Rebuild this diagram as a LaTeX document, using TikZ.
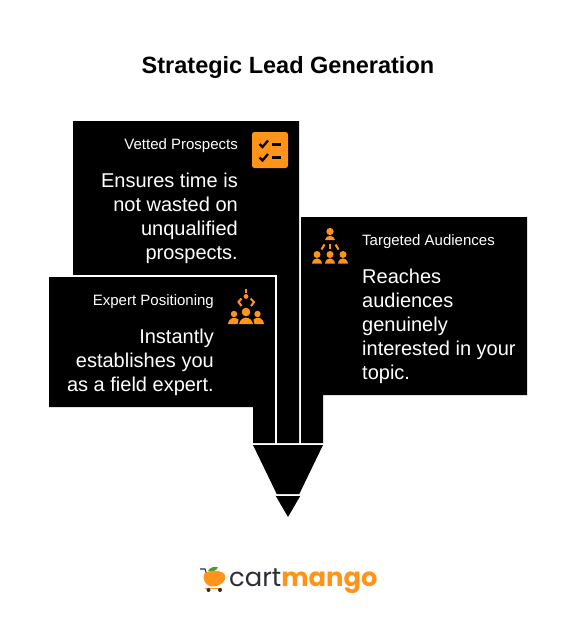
\documentclass[tikz,border=0pt]{standalone}
\usepackage{fontspec}
\setmainfont{Liberation Sans}
\newfontfamily\logofont{Poppins}
\usetikzlibrary{positioning}
\definecolor{mangoorange}{HTML}{FF9418}
\definecolor{cartgray}{HTML}{2B2F33}
\definecolor{leafgreen}{HTML}{4E9A2E}

\begin{document}
\begin{tikzpicture}[
  x=1pt,y=-1pt,
  panel/.style={fill=black,draw=none},
  rim/.style={draw=white,line width=2pt},
  heading/.style={text=white,inner sep=0pt,font=\fontsize{15}{18}\selectfont},
  bodytext/.style={text=white,inner sep=0pt,font=\fontsize{20}{24}\selectfont},
  iconfill/.style={fill=mangoorange,draw=none},
  iconline/.style={draw=mangoorange,line width=2.1pt},
  tickline/.style={draw=black,line width=2.3pt},
  person/.style={fill=mangoorange,draw=none}
]
\useasboundingbox[fill=white] (0,0) rectangle (576,626);
\node[font=\fontsize{23.5}{28}\selectfont\bfseries,inner sep=0pt] (title) at (288,67) {Strategic Lead Generation};

% panels
\fill[panel] (73,121) -- (299,121) -- (299,443) -- (277,443) -- (277,275) -- (73,275) -- cycle;
\fill[panel] (301,217) -- (527,217) -- (527,395) -- (323,395) -- (323,443) -- (301,443) -- cycle;
\fill[panel] (49,277) -- (275,277) -- (275,443) -- (253,443) -- (253,407) -- (49,407) -- cycle;
\draw[rim] (49,276) -- (276,276) -- (276,443);

% tip
\fill[panel] (253,445) -- (323,445) -- (299.3,494) -- (276.7,494) -- cycle;
\fill[panel] (275.8,496) -- (300.2,496) -- (288,517) -- cycle;

% vetted
\node[heading,anchor=east] (vetted) at (238,145.5) {Vetted Prospects};
\node[bodytext,anchor=north east,align=right] (vettedtext) at (238,173) {Ensures time is\\not wasted on\\unqualified\\prospects.};
\fill[iconfill,rounded corners=2.5pt] (252,132) rectangle (288,168);
\draw[tickline] (259.5,144) -- (262.5,147) -- (268,140.5);
\draw[tickline] (259.5,157.5) -- (262.5,160.5) -- (268,154);
\draw[tickline] (272,144.5) -- (281,144.5);
\draw[tickline] (272,157.5) -- (281,157.5);

% targeted
\node[heading,anchor=west] (targeted) at (362,241.5) {Targeted Audiences};
\node[bodytext,anchor=north west,align=left] (targetedtext) at (362,269) {Reaches\\audiences\\genuinely\\interested in your\\topic.};
\fill[person] (330,231.5) circle (3.6);
\fill[person] (325,240) .. controls (325.5,234.5) and (334.5,234.5) .. (335,240) -- cycle;
\foreach \px in {317,330,343}{
  \fill[person] (\px,254.5) circle (3.5);
  \fill[person] (\px-5,263.7) .. controls (\px-4,256.5) and (\px+4,256.5) .. (\px+5,263.7) -- cycle;
}
\draw[iconline] (324.5,244.5) -- (321.5,249.5);
\draw[iconline] (330,243.5) -- (330,249);
\draw[iconline] (335.5,244.5) -- (338.5,249.5);

% expert
\node[heading,anchor=east] (expert) at (214,301.5) {Expert Positioning};
\node[bodytext,anchor=north east,align=right] (experttext) at (214,329) {Instantly\\establishes you\\as a field expert.};
\draw[iconline] (246,288.5) -- (246,293);
\fill[person] (246,296.5) circle (2.4);
\draw[iconline] (241.5,298.5) -- (238.5,302) -- (241.5,306);
\draw[iconline] (250.5,298.5) -- (254,302) -- (251,306);
\fill[person] (246,312) circle (4.3);
\fill[person] (234,314) circle (3.2);
\fill[person] (257.5,314) circle (3.2);
\fill[person] (239,324) .. controls (241,315.5) and (251,315.5) .. (253,324) -- cycle;
\fill[person] (228,324) .. controls (229,317) and (235,316.5) .. (238.5,319.5) .. controls (238,321.5) and (238,323) .. (237.5,324) -- cycle;
\fill[person] (264,324) .. controls (263,317) and (257,316.5) .. (253.5,319.5) .. controls (254,321.5) and (254,323) .. (254.5,324) -- cycle;

% logo
\node[anchor=west,inner sep=0pt,font=\fontsize{25.8}{30}\logofont,text=cartgray] (logo) at (229,581) {cart\textcolor{mangoorange}{\bfseries mango}};
\draw[cartgray,line width=1.1pt] (200,569) -- (205,569) -- (207,575);
\fill[leafgreen] (208,571) .. controls (210,567) and (215,566) .. (218,567.5) .. controls (216,571) and (212,572) .. (208,571) -- cycle;
\fill[mangoorange] (204,574) .. controls (210,569) and (222,570) .. (225,575) .. controls (227,581) and (219,587) .. (212,586.5) .. controls (206,586) and (202,580) .. (204,574) -- cycle;
\draw[mangoorange,line width=1pt] (205,588.5) -- (222,588.5);
\fill[cartgray] (208.5,590) circle (2);
\fill[cartgray] (220,590) circle (2);
\end{tikzpicture}
\end{document}
